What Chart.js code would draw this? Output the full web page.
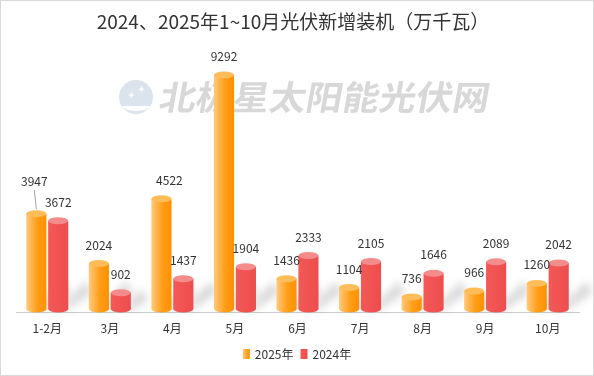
<!DOCTYPE html>
<html><head><meta charset="utf-8">
<script src="https://cdn.jsdelivr.net/npm/chart.js@4/dist/chart.umd.min.js"></script>
<style>
html,body{margin:0;padding:0;background:#fff;overflow:hidden;}
#wrap{position:relative;width:594px;height:376px;}
#frame{position:absolute;left:0;top:0;width:594px;height:376px;box-sizing:border-box;border:1px solid #d9d9d9;pointer-events:none;}
</style></head><body>
<div id="wrap"><canvas id="c" width="594" height="376"></canvas><div id="frame"></div></div>
<script>
// ---- data ----
const categories = ['1-2月','3月','4月','5月','6月','7月','8月','9月','10月'];
const seriesNames = ['2025年','2024年'];
const values2025 = [3947,2024,4522,9292,1436,1104,736,966,1260];
const values2024 = [3672,902,1437,1904,2333,2105,1646,2089,2042];
const titleText = '2024、2025年1~10月光伏新增装机（万千瓦）';
const watermarkText = '北极星太阳能光伏网';
const yMax = 10000;

// ---- styles ----
const FONT = '"Noto Sans CJK SC","Microsoft YaHei",sans-serif';
const palette = [
  {stops:[[0,'#ffca7c'],[0.55,'#ff9d18'],[1,'#ff9000']], top:'#ffbd5a', legend:['#ffc46b','#ff9000']},
  {stops:[[0,'#f25957'],[1,'#ee4d4d']], top:'#f48c8c', legend:['#f25957','#ee4d4d']}
];
const labelAdjust = {'0-0':{dx:-2,dy:-14,leader:true}, '0-2':{dx:8,dy:0}};

function grad(ctx,x0,x1,stops){
  const g = ctx.createLinearGradient(x0,0,x1,0);
  stops.forEach(s=>g.addColorStop(s[0],s[1]));
  return g;
}

const cylPlugin = {
  id:'cyl',
  beforeDatasetsDraw(chart){
    const ctx = chart.ctx;
    // watermark
    ctx.save();
    ctx.fillStyle = '#dbe3ec';
    ctx.beginPath(); ctx.arc(136,97,17,0,Math.PI*2); ctx.fill();
    ctx.fillStyle = '#ffffff';
    ctx.beginPath(); ctx.ellipse(136,106,14,5,0,Math.PI,0,true); ctx.fill();
    ctx.font = 'bold 8px sans-serif'; ctx.textAlign='center'; ctx.textBaseline='middle';
    ctx.fillText('✦',141,90); ctx.fillText('✦',131,96);
    ctx.restore();
    ctx.save();
    ctx.translate(160,97);
    ctx.transform(1,0,-0.18,1,0,0);
    ctx.font = 'bold 34px ' + FONT;
    ctx.textAlign='left'; ctx.textBaseline='middle';
    const w = ctx.measureText(watermarkText).width;
    ctx.scale(330/w,1);
    ctx.fillStyle = '#d8d8d8';
    ctx.fillText(watermarkText,0,0);
    ctx.restore();
    // shadows
    chart.data.datasets.forEach((ds,di)=>{
      const meta = chart.getDatasetMeta(di);
      meta.data.forEach(el=>{
        const xr = el.x + el.width/2;
        const h = el.base - el.y;
        const L = Math.min(h*0.6, 22);
        ctx.save();
        ctx.filter = 'blur(4px)';
        ctx.fillStyle = 'rgba(0,0,0,0.16)';
        ctx.beginPath();
        ctx.moveTo(xr-4, el.base-1);
        ctx.lineTo(xr-4, el.base-9);
        ctx.lineTo(xr+L*0.8, el.base-9-L);
        ctx.lineTo(xr+L*0.8+6, el.base-L+2);
        ctx.closePath();
        ctx.fill();
        ctx.restore();
      });
    });
  },
  afterDatasetsDraw(chart){
    const ctx = chart.ctx;
    chart.data.datasets.forEach((ds,di)=>{
      const meta = chart.getDatasetMeta(di);
      const p = palette[di];
      meta.data.forEach((el,i)=>{
        const w = el.width, xl = el.x - w/2, xr = el.x + w/2;
        const ry = 3.5;
        const cTop = el.y + ry, cBot = el.base - ry;
        ctx.save();
        const g = grad(ctx,xl,xr,p.stops);
        ctx.fillStyle = g;
        ctx.fillRect(xl,cTop,w,cBot-cTop);
        ctx.beginPath(); ctx.ellipse(el.x,cBot,w/2,ry,0,0,Math.PI*2); ctx.fill();
        ctx.fillStyle = p.top;
        ctx.beginPath(); ctx.ellipse(el.x,cTop,w/2,ry,0,0,Math.PI*2); ctx.fill();
        ctx.restore();
      });
    });
  },
  afterDraw(chart){
    const ctx = chart.ctx;
    // data labels
    chart.data.datasets.forEach((ds,di)=>{
      const meta = chart.getDatasetMeta(di);
      meta.data.forEach((el,i)=>{
        const adj = labelAdjust[di+'-'+i] || {dx:0,dy:0};
        const lx = el.x + adj.dx, ly = el.y - 15 + adj.dy;
        ctx.save();
        if (adj.leader){
          ctx.strokeStyle = '#a0a0a0'; ctx.lineWidth = 1;
          ctx.beginPath(); ctx.moveTo(lx, ly+9); ctx.lineTo(el.x, el.y-1); ctx.stroke();
        }
        ctx.font = '12px ' + FONT;
        ctx.fillStyle = '#333333';
        ctx.textAlign='center'; ctx.textBaseline='middle';
        ctx.fillText(String(ds.data[i]), lx, ly);
        ctx.restore();
      });
    });
    // title
    ctx.save();
    ctx.font = '19px ' + FONT;
    ctx.fillStyle = '#333333';
    ctx.textAlign='center'; ctx.textBaseline='middle';
    ctx.fillText(titleText, 293, 22);
    ctx.restore();
    // legend
    ctx.save();
    ctx.font = '12px ' + FONT;
    ctx.textBaseline='middle'; ctx.textAlign='left';
    const bw = 7, bh = 10, gapT = 5, gapI = 7;
    const widths = seriesNames.map(n=>ctx.measureText(n).width);
    const total = widths.reduce((a,b)=>a+b,0) + 2*(bw+gapT) + gapI;
    let x = 297 - total/2;
    const cy = 354;
    seriesNames.forEach((n,k)=>{
      ctx.fillStyle = grad(ctx,x,x+bw,[[0,palette[k].legend[0]],[1,palette[k].legend[1]]]);
      ctx.fillRect(x, cy-bh/2, bw, bh);
      x += bw + gapT;
      ctx.fillStyle = '#333333';
      ctx.fillText(n, x, cy);
      x += widths[k] + gapI;
    });
    ctx.restore();
  }
};

new Chart(document.getElementById('c'), {
  type:'bar',
  data:{
    labels: categories,
    datasets:[
      {label:seriesNames[0], data:values2025, backgroundColor:'rgba(0,0,0,0)', borderWidth:0},
      {label:seriesNames[1], data:values2024, backgroundColor:'rgba(0,0,0,0)', borderWidth:0}
    ]
  },
  options:{
    responsive:false,
    animation:false,
    devicePixelRatio:1,
    categoryPercentage:0.7,
    barPercentage:0.92,
    layout:{padding:{left:16,right:15,top:53,bottom:31}},
    plugins:{legend:{display:false}, title:{display:false}, tooltip:{enabled:false}},
    scales:{
      x:{
        grid:{display:false, drawTicks:false},
        border:{display:true, color:'#cccccc', width:1},
        ticks:{color:'#333333', font:{size:12, family:FONT}, padding:9, maxRotation:0, autoSkip:false}
      },
      y:{display:false, min:0, max:yMax}
    }
  },
  plugins:[cylPlugin]
});
</script>
</body></html>
